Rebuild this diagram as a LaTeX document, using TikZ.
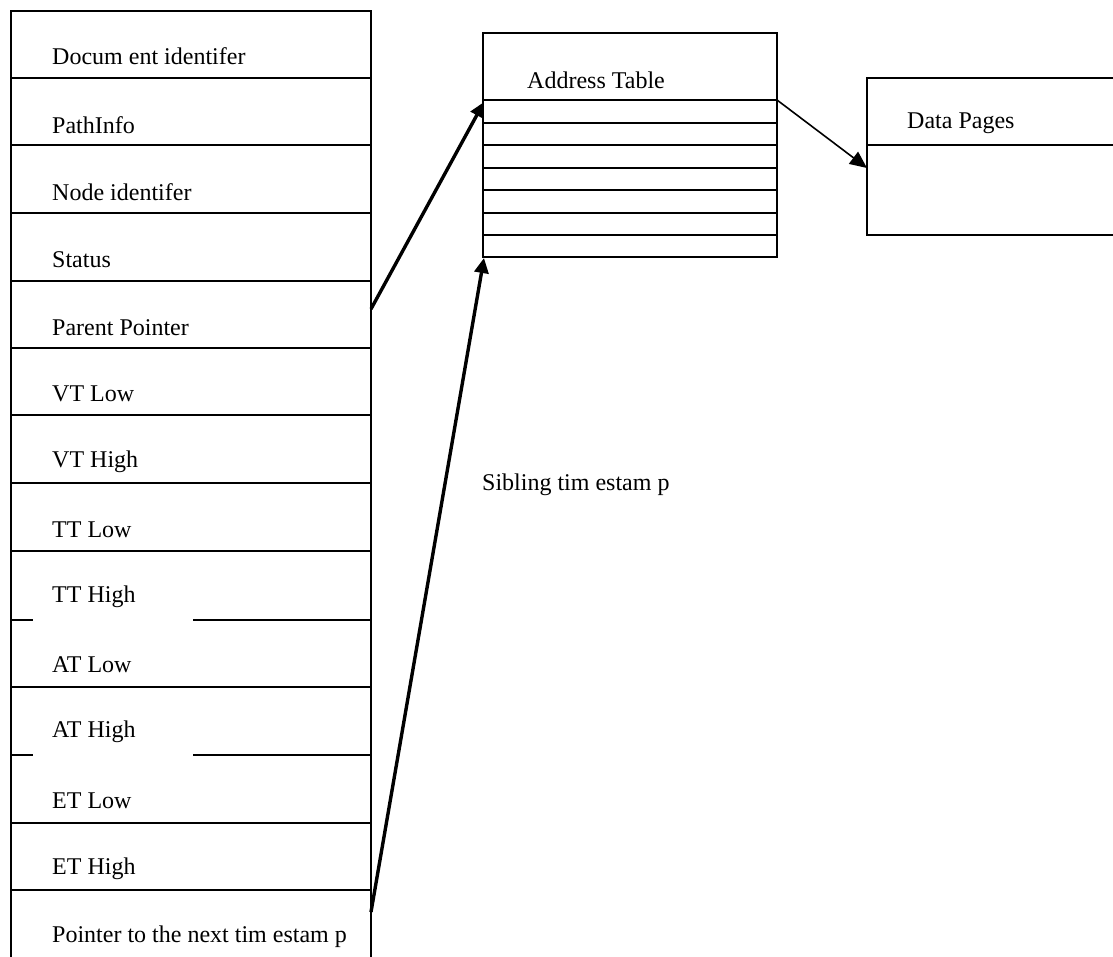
\documentclass[tikz,border=0pt]{standalone}
\usepackage{fontspec}
\setmainfont{Liberation Serif}
\usetikzlibrary{arrows.meta}
\begin{document}
\begin{tikzpicture}[x=1pt,y=-1pt,
  box/.style={line width=1.6pt},
  lbl/.style={anchor=west,inner sep=0pt,font=\fontsize{24}{28}\selectfont},
  ptr/.style={line width=3.4pt,-{Triangle[length=15pt,width=14pt]}},
  thinptr/.style={line width=1.6pt,-{Triangle[length=17pt,width=15pt]}}]
\useasboundingbox (0,0) rectangle (1113,956);
\begin{scope}
\clip (0,0) rectangle (1113,956);
% left record box (open at the bottom, runs past the edge)
\draw[box] (11,975) -- (11,11) -- (371,11) -- (371,975);
\foreach \y in {78,145,213,281,348,415,483,551,687,823,890}
  \draw[box] (11,\y) -- (371,\y);
% broken separators under TT High and AT High
\draw[box] (11,620) -- (33,620);
\draw[box] (193,620) -- (371,620);
\draw[box] (11,755) -- (33,755);
\draw[box] (193,755) -- (371,755);
% address table
\draw[box] (483,33) rectangle (777,257);
\foreach \y in {100,123,145,168,190,213,235}
  \draw[box] (483,\y) -- (777,\y);
% data pages (open at the right)
\draw[box] (1125,78) -- (867,78) -- (867,235) -- (1125,235);
\draw[box] (867,145) -- (1125,145);
\end{scope}
% labels of the record
\node[lbl] (docid) at (52,56) {Docum ent identifer};
\node[lbl] (path) at (52,125) {PathInfo};
\node[lbl] (nodeid) at (52,192) {Node identifer};
\node[lbl] (status) at (52,260) {Status};
\node[lbl] (parent) at (52,328) {Parent Pointer};
\node[lbl] (vtlow) at (52,394) {VT Low};
\node[lbl] (vthigh) at (52,462) {VT High};
\node[lbl] (ttlow) at (52,530) {TT Low};
\node[lbl] (tthigh) at (52,597) {TT High};
\node[lbl] (atlow) at (52,665) {AT Low};
\node[lbl] (athigh) at (52,732) {AT High};
\node[lbl] (etlow) at (52,801) {ET Low};
\node[lbl] (ethigh) at (52,869) {ET High};
\node[lbl] (next) at (52,937) {Pointer to the next tim estam p};
\node[lbl] (addr) at (527,80) {Address Table};
\node[lbl] (data) at (907,123) {Data Pages};
\node[lbl] (sib) at (482,485) {Sibling tim estam p};
% connector end points
\coordinate (ppout) at (371,309);
\coordinate (atin) at (484,102);
\coordinate (nextout) at (371,912);
\coordinate (atbot) at (484,258);
\coordinate (atout) at (777,100);
\coordinate (dpin) at (867,168);
\draw[ptr] (ppout) -- (atin);
\draw[ptr] (nextout) -- (atbot);
\draw[thinptr] (atout) -- (dpin);
\end{tikzpicture}
\end{document}
